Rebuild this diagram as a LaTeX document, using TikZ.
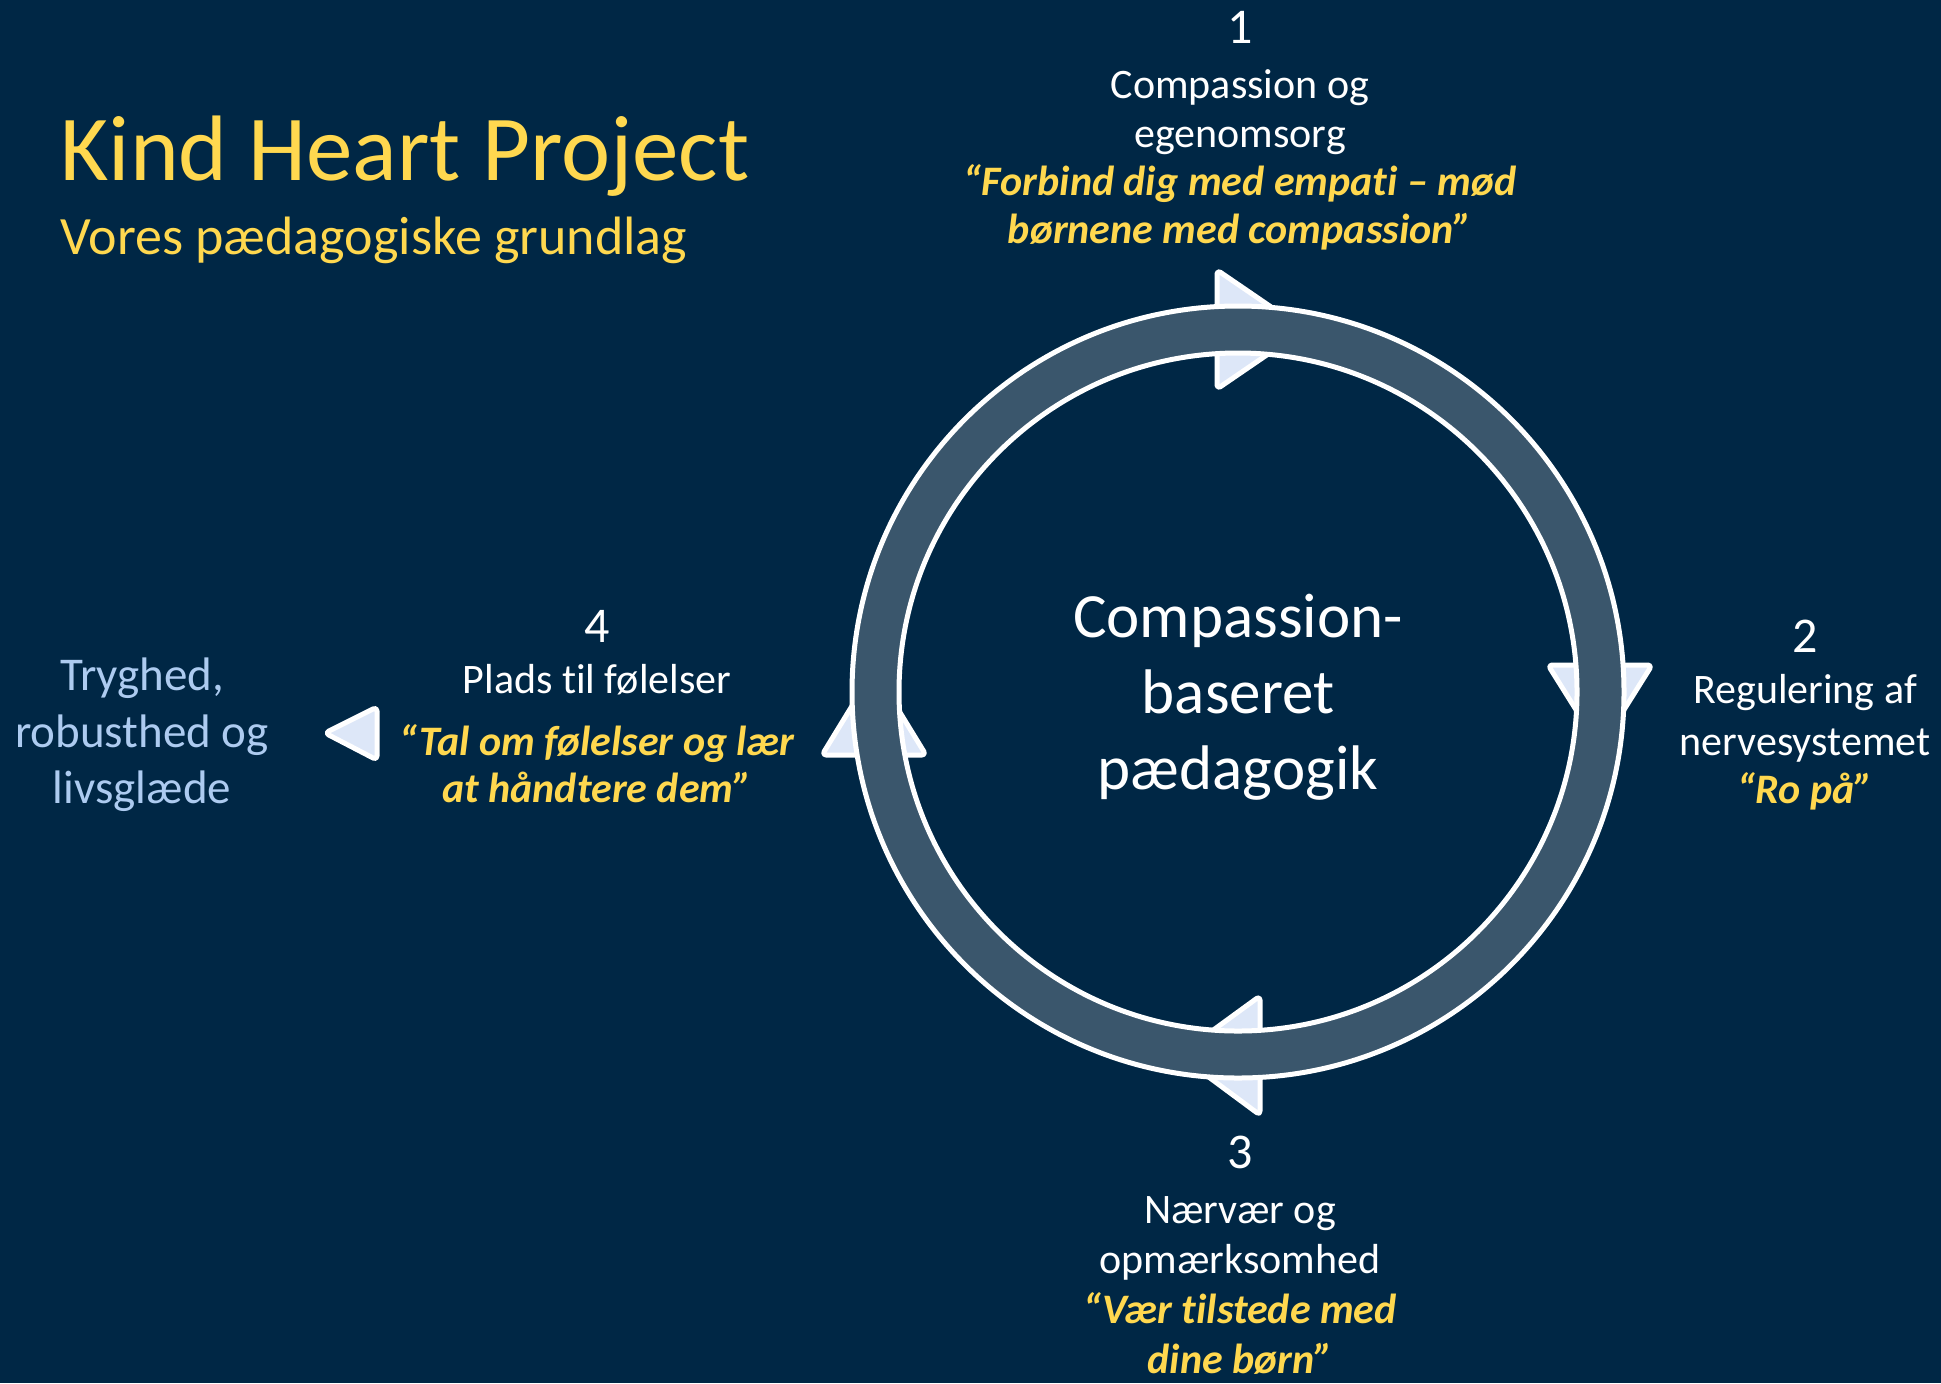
\documentclass[tikz,border=0pt]{standalone}
\usepackage{fontspec}
\setmainfont{Carlito}[RawFeature={-liga;-clig;-calt;-dlig}]
\definecolor{bgnavy}{HTML}{002745}
\definecolor{ringfill}{HTML}{3A566C}
\definecolor{trifill}{HTML}{DDE7F8}
\definecolor{kyellow}{HTML}{FFD84F}
\definecolor{lblue}{HTML}{ADCBF0}
\tikzset{
  txt/.style={inner sep=0pt, anchor=base},
  titletxt/.style={txt, anchor=base west, text=kyellow, font=\fontsize{46.5pt}{55pt}\selectfont},
  subtxt/.style={txt, anchor=base west, text=kyellow, font=\fontsize{27pt}{32pt}\selectfont},
  numtxt/.style={txt, text=white, font=\fontsize{25pt}{30pt}\selectfont},
  lbl/.style={txt, text=white, font=\fontsize{21pt}{25pt}\selectfont},
  quo/.style={txt, text=kyellow, font=\fontsize{21pt}{25pt}\selectfont\bfseries\itshape},
  ctr/.style={txt, text=white, font=\fontsize{31.5pt}{38pt}\selectfont},
  outtxt/.style={txt, text=lblue, font=\fontsize{23.5pt}{28pt}\selectfont},
  tri/.style={fill=trifill, draw=white, line width=2.5pt, rounded corners=2pt, line join=round},
  ringedge/.style={draw=white, line width=2.5pt}
}
\begin{document}
\begin{tikzpicture}[x=0.5pt,y=-0.5pt]
\useasboundingbox (0,0) rectangle (1941,1383);
\fill[bgnavy] (0,0) rectangle (1941,1383);

% title
\node[titletxt] (title) at (60,180) {Kind Heart Project};
\node[subtxt] (subtitle) at (60,254) {Vores pædagogiske grundlag};

% arrowheads on the ring
\filldraw[tri] (1217,270) -- (1217,389) -- (1304,329.5) -- cycle;
\filldraw[tri] (1548,665) -- (1652,665) -- (1600,748) -- cycle;
\filldraw[tri] (1260,996) -- (1260,1115) -- (1179,1055) -- cycle;
\filldraw[tri] (822,755) -- (926,755) -- (874,670) -- cycle;

% ring
\coordinate (c) at (1238,692);
\fill[ringfill, even odd rule] (c) circle (386) (c) circle (339);
\draw[ringedge] (c) circle (386);
\draw[ringedge] (c) circle (339);

% center text
\node[ctr] (ct1) at (1238,637) {Compassion-};
\node[ctr] (ct2) at (1238,713) {baseret};
\node[ctr] (ct3) at (1238,789) {pædagogik};

% step 1
\node[numtxt] (n1) at (1240,43) {1};
\node[lbl] (l1a) at (1240,98) {Compassion og};
\node[lbl] (l1b) at (1240,147) {egenomsorg};
\node[quo] (q1a) at (1240,195) {“Forbind dig med empat\kern0pt i – mød};
\node[quo] (q1b) at (1240,243) {børnene med compassion”};

% step 2
\node[numtxt] (n2) at (1805,652) {2};
\node[lbl] (l2a) at (1805,703) {Regulering af};
\node[lbl] (l2b) at (1805,755) {nervesystemet};
\node[quo] (q2a) at (1805,803) {“Ro på”};

% step 3
\node[numtxt] (n3) at (1240,1168) {3};
\node[lbl] (l3a) at (1240,1223) {Nærvær og};
\node[lbl] (l3b) at (1240,1273) {opmærksomhed};
\node[quo] (q3a) at (1240,1323) {“Vær t\kern0pt ilstede med};
\node[quo] (q3b) at (1240,1373) {dine børn”};

% step 4
\node[numtxt] (n4) at (597,642) {4};
\node[lbl] (l4a) at (597,693) {Plads t\kern0pt il følelser};
\node[quo] (q4a) at (597,755) {“Tal om følelser og lær};
\node[quo] (q4b) at (597,802) {at håndtere dem”};

% outcome
\filldraw[tri] (377,707) -- (377,760) -- (325,733) -- cycle;
\node[outtxt] (o1) at (142,690) {Tryghed,};
\node[outtxt] (o2) at (142,747) {robusthed og};
\node[outtxt] (o3) at (142,803) {livsglæde};
\end{tikzpicture}
\end{document}
